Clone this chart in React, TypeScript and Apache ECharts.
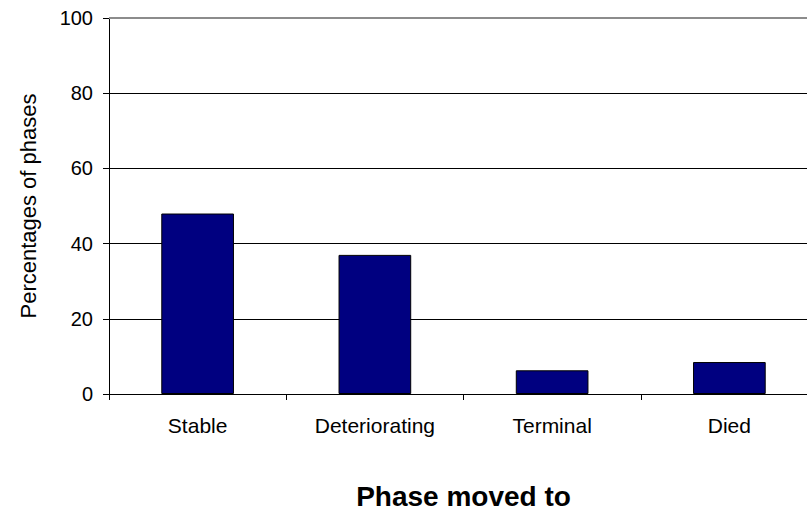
import React, { useEffect, useRef } from "react";
import * as echarts from "echarts";

const categories = ["Stable", "Deteriorating", "Terminal", "Died"];
const percentages = [48, 37, 6.3, 8.5];
const yMin = 0;
const yMax = 100;
const yInterval = 20;
const xTitle = "Phase moved to";
const yTitle = "Percentages of phases";

export default function App() {
  const ref = useRef<HTMLDivElement>(null);
  useEffect(() => {
    if (!ref.current) return;
    const chart = echarts.init(ref.current, null, { renderer: "svg" });
    const font = "'Liberation Sans', Arial, sans-serif";
    chart.setOption({
      animation: false,
      backgroundColor: "#ffffff",
      grid: { left: 109, top: 18, right: 0, bottom: 115, containLabel: false },
      xAxis: {
        type: "category",
        data: categories,
        boundaryGap: true,
        axisLine: { show: true, lineStyle: { color: "#000", width: 1 } },
        axisTick: { show: true, length: 6, lineStyle: { color: "#000" }, alignWithLabel: false },
        axisLabel: { color: "#000", fontSize: 21, fontFamily: font, margin: 21 },
        name: xTitle,
        nameLocation: "middle",
        nameGap: 88,
        nameTextStyle: { color: "#000", fontSize: 28, fontWeight: "bold", fontFamily: font },
        splitLine: { show: false },
      },
      yAxis: {
        type: "value",
        min: yMin,
        max: yMax,
        interval: yInterval,
        axisLine: { show: true, lineStyle: { color: "#000", width: 1 } },
        axisTick: { show: true, length: 6, lineStyle: { color: "#000" } },
        axisLabel: { color: "#000", fontSize: 20, fontFamily: font, margin: 16 },
        splitLine: { show: true, lineStyle: { color: "#000", width: 1 } },
        name: yTitle,
        nameLocation: "middle",
        nameGap: 70,
        nameRotate: 90,
        nameTextStyle: { color: "#000", fontSize: 22, fontFamily: font },
      },
      series: [
        {
          type: "bar",
          data: percentages,
          barWidth: "41%",
          itemStyle: { color: "#000080", borderColor: "#000", borderWidth: 1 },
          markLine: {
            silent: true,
            symbol: "none",
            label: { show: false },
            lineStyle: { color: "#8c8c8c", width: 2, type: "solid" },
            data: [{ yAxis: yMax }],
          },
        },
      ],
    });
    return () => chart.dispose();
  }, []);
  return (
    <div
      ref={ref}
      style={{ position: "fixed", left: 0, top: 0, width: 818, height: 515, background: "#fff" }}
    />
  );
}
